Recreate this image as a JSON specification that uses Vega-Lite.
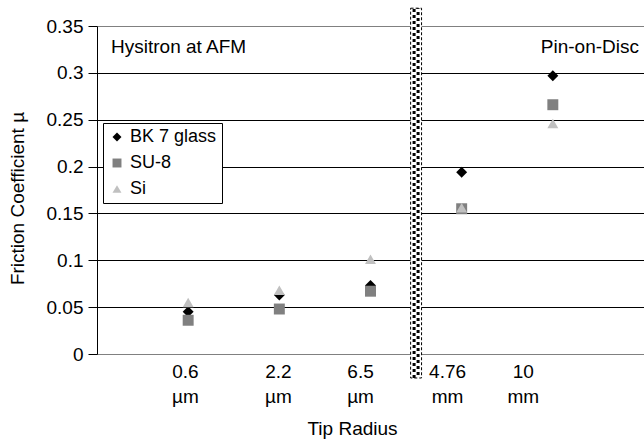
{
  "$schema": "https://vega.github.io/schema/vega-lite/v6.json",
  "width": 547,
  "height": 328,
  "autosize": {"type": "none"},
  "padding": {"left": 97, "top": 26, "right": 0, "bottom": 85},
  "config": {"font": "Liberation Sans", "view": {"stroke": null}},
  "data": {"values": [
    {"pos": 1, "tip": "0.6 µm", "material": "BK 7 glass", "mu": 0.045},
    {"pos": 2, "tip": "2.2 µm", "material": "BK 7 glass", "mu": 0.063},
    {"pos": 3, "tip": "6.5 µm", "material": "BK 7 glass", "mu": 0.073},
    {"pos": 4, "tip": "4.76 mm", "material": "BK 7 glass", "mu": 0.194},
    {"pos": 5, "tip": "10 mm", "material": "BK 7 glass", "mu": 0.297},
    {"pos": 1, "tip": "0.6 µm", "material": "SU-8", "mu": 0.036},
    {"pos": 2, "tip": "2.2 µm", "material": "SU-8", "mu": 0.048},
    {"pos": 3, "tip": "6.5 µm", "material": "SU-8", "mu": 0.067},
    {"pos": 4, "tip": "4.76 mm", "material": "SU-8", "mu": 0.155},
    {"pos": 5, "tip": "10 mm", "material": "SU-8", "mu": 0.266},
    {"pos": 1, "tip": "0.6 µm", "material": "Si", "mu": 0.055},
    {"pos": 2, "tip": "2.2 µm", "material": "Si", "mu": 0.068},
    {"pos": 3, "tip": "6.5 µm", "material": "Si", "mu": 0.101},
    {"pos": 4, "tip": "4.76 mm", "material": "Si", "mu": 0.156},
    {"pos": 5, "tip": "10 mm", "material": "Si", "mu": 0.246}
  ]},
  "layer": [
    {
      "mark": {"type": "point", "filled": true, "size": 120, "opacity": 1},
      "encoding": {
        "x": {
          "field": "pos", "type": "quantitative",
          "scale": {"domain": [0, 6], "nice": false, "zero": false},
          "axis": {
            "title": "Tip Radius",
            "titleFontSize": 19, "titleFontWeight": "normal", "titleColor": "black",
            "titleX": 255, "titleY": 74, "titleBaseline": "middle", "titleAlign": "center",
            "values": [0.965, 1.985, 2.885, 3.84, 4.67],
            "labelExpr": "datum.value < 1.5 ? ['0.6', 'µm'] : datum.value < 2.5 ? ['2.2', 'µm'] : datum.value < 3.3 ? ['6.5', 'µm'] : datum.value < 4.2 ? ['4.76', 'mm'] : ['10', 'mm']",
            "labelFontSize": 19, "labelColor": "black", "labelLineHeight": 25,
            "labelBaseline": "top", "labelPadding": 8, "labelAlign": "center",
            "labelOverlap": false, "labelFlush": false,
            "ticks": false, "grid": false,
            "domainColor": "#808080", "domainWidth": 1
          }
        },
        "y": {
          "field": "mu", "type": "quantitative",
          "scale": {"domain": [0, 0.35], "nice": false},
          "axis": {
            "title": "Friction Coefficient µ",
            "titleFontSize": 19, "titleFontWeight": "normal", "titleColor": "black",
            "titleAngle": 270, "titleX": -80, "titleY": 172, "titleBaseline": "middle", "titleAlign": "center",
            "values": [0, 0.05, 0.1, 0.15, 0.2, 0.25, 0.3, 0.35],
            "format": "~g",
            "labelFontSize": 19, "labelColor": "black", "labelPadding": 5,
            "tickSize": 9, "tickColor": "black", "domainColor": "black",
            "grid": true,
            "gridColor": {"condition": {"test": "datum.value === 0.35 || datum.value === 0", "value": "#808080"}, "value": "black"},
            "gridOpacity": 1, "gridWidth": 1
          }
        },
        "color": {
          "field": "material", "type": "nominal",
          "scale": {"domain": ["BK 7 glass", "SU-8", "Si"], "range": ["black", "#808080", "#c0c0c0"]},
          "legend": {
            "title": null, "orient": "none", "legendX": 6, "legendY": 97,
            "strokeColor": "black", "fillColor": "white", "padding": 5,
            "labelFontSize": 18, "labelColor": "black", "symbolSize": 80,
            "rowPadding": 8, "labelOffset": 4, "symbolStrokeWidth": 0
          }
        },
        "shape": {
          "field": "material", "type": "nominal",
          "scale": {"domain": ["BK 7 glass", "SU-8", "Si"], "range": ["diamond", "square", "triangle-up"]},
          "legend": {
            "title": null, "orient": "none", "legendX": 6, "legendY": 97,
            "strokeColor": "black", "fillColor": "white", "padding": 5,
            "labelFontSize": 18, "labelColor": "black", "symbolSize": 80,
            "rowPadding": 8, "labelOffset": 4, "symbolStrokeWidth": 0
          }
        }
      }
    },
    {
      "data": {"values": [{"separator": "scale break"}]},
      "mark": {"type": "rect", "fill": "white", "stroke": "black", "strokeWidth": 1, "strokeDash": [3, 2]},
      "encoding": {
        "x": {"datum": 3.44, "type": "quantitative"},
        "x2": {"datum": 3.56},
        "y": {"datum": -0.0256, "type": "quantitative"},
        "y2": {"datum": 0.369}
      }
    },
    {
      "data": {"values": [{"separator": "scale break"}]},
      "mark": {"type": "rule", "color": "black", "strokeWidth": 3, "strokeDash": [3, 3], "xOffset": -2},
      "encoding": {
        "x": {"datum": 3.5, "type": "quantitative"},
        "y": {"datum": -0.0256, "type": "quantitative"},
        "y2": {"datum": 0.369}
      }
    },
    {
      "data": {"values": [{"separator": "scale break"}]},
      "mark": {"type": "rule", "color": "black", "strokeWidth": 3, "strokeDash": [3, 3], "strokeDashOffset": 3, "xOffset": 2},
      "encoding": {
        "x": {"datum": 3.5, "type": "quantitative"},
        "y": {"datum": -0.0256, "type": "quantitative"},
        "y2": {"datum": 0.369}
      }
    },
    {
      "data": {"values": [{"note": "Hysitron at AFM"}]},
      "mark": {"type": "text", "align": "left", "baseline": "middle", "fontSize": 19, "color": "black"},
      "encoding": {
        "x": {"datum": 0.154, "type": "quantitative"},
        "y": {"datum": 0.328, "type": "quantitative"},
        "text": {"field": "note"}
      }
    },
    {
      "data": {"values": [{"note": "Pin-on-Disc"}]},
      "mark": {"type": "text", "align": "right", "baseline": "middle", "fontSize": 19, "color": "black"},
      "encoding": {
        "x": {"datum": 5.945, "type": "quantitative"},
        "y": {"datum": 0.328, "type": "quantitative"},
        "text": {"field": "note"}
      }
    }
  ]
}
